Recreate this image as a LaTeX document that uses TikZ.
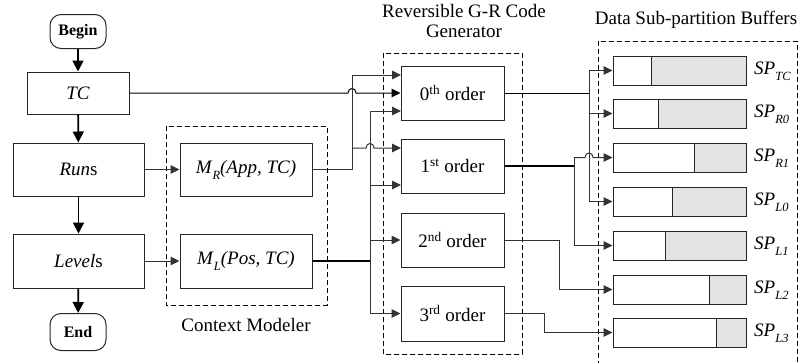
\documentclass[tikz,border=0pt]{standalone}
\usepackage{fontspec}
\setmainfont{Liberation Serif}
\usetikzlibrary{arrows.meta,calc}

% small lowered italic subscript
\newcommand{\lowsub}[1]{\raisebox{-0.7ex}{\fontsize{12.5}{12.5}\selectfont\textit{#1}}}

\begin{document}
\begin{tikzpicture}[x=1pt,y=-1pt,
  font=\fontsize{19}{20}\selectfont,
  ln/.style={line width=1pt, draw=black!80},
  thk/.style={line width=1.7pt, draw=black},
  arr/.style={ln, -{Triangle[length=9pt,width=8.5pt]}},
  flow/.style={line width=1.8pt, -{Triangle[length=11pt,width=11pt]}},
  box/.style={draw=black!85, line width=1pt, inner sep=0pt},
  term/.style={box, rounded corners=11pt, minimum width=56pt,
    font=\fontsize{16}{18}\selectfont\bfseries},
  dashbox/.style={line width=1pt, dash pattern=on 5pt off 3pt},
  buf/.style={box, minimum width=133pt, minimum height=29pt},
  gfill/.style={fill=black!11, draw=black!85, line width=1pt}
]
\useasboundingbox (0,0) rectangle (803,362);

% ---- main flow ----
\node[term, minimum height=34pt] (begin) at (78,31.5) {Begin};
\node[box, minimum width=102pt, minimum height=42pt] (tc) at (78,93) {\textit{TC}};
\node[box, minimum width=131pt, minimum height=53pt] (runs) at (78.5,169.5) {\textit{Run}s};
\node[box, minimum width=131pt, minimum height=54pt] (levels) at (78.5,261) {\textit{Level}s};
\node[term, minimum height=37pt] (end) at (78,332) {End};

\draw[flow] (begin) -- (tc);
\draw[flow] (tc) -- (runs);
\draw[flow] (runs) -- (levels);
\draw[flow] (levels) -- (end);

% ---- context modeler ----
\draw[dashbox] (166,126) rectangle (327,305);
\node[box, minimum width=132pt, minimum height=53pt] (mr) at (246,169.5)
  {\textit{M}\lowsub{R}\textit{(App, TC)}};
\node[box, minimum width=132pt, minimum height=54pt] (ml) at (246,261)
  {\textit{M}\lowsub{L}\textit{(Pos, TC)}};
\node (cmlabel) at (246,325) {Context Modeler};

\draw[arr] (runs) -- (mr);
\draw[arr] (levels) -- (ml);

% ---- code generator ----
\draw[dashbox] (383,53) rectangle (522,354);
\node[align=center] (grlabel) at (464,21) {Reversible G-R Code\\Generator};
\node[box, minimum width=103pt, minimum height=54pt] (o0) at (452.5,93) {0\textsuperscript{th} order};
\node[box, minimum width=103pt, minimum height=54pt] (o1) at (452.5,166) {1\textsuperscript{st} order};
\node[box, minimum width=103pt, minimum height=54pt] (o2) at (452.5,240) {2\textsuperscript{nd} order};
\node[box, minimum width=103pt, minimum height=55pt] (o3) at (452.5,313.5) {3\textsuperscript{rd} order};

% junction columns and input points
\coordinate (jR) at (352,0);
\coordinate (jL) at (370,0);
\coordinate (j0) at (589,0);
\coordinate (j1) at (574,0);
\coordinate (j2) at (559,0);
\coordinate (j3) at (544,0);
\coordinate (in0a) at (401,75);
\coordinate (in0c) at (401,111);
\coordinate (in1a) at (401,148);
\coordinate (in1b) at (401,185);

% TC straight into the 0th order coder, hopping over the M_R bus
\draw[arr, draw=black] (tc.east) -- ($(jR |- tc.east)+(-4,0)$)
  .. controls +(0,-6) and +(0,-6) .. ($(jR |- tc.east)+(4,0)$) -- (o0.west);

% M_R bus
\draw[arr] (mr.east) -- (jR |- mr.east) -- (jR |- in0a) -- (in0a);
\draw[arr] (jR |- in1a) -- ($(jL |- in1a)+(-4,0)$)
  .. controls +(0,-6) and +(0,-6) .. ($(jL |- in1a)+(4,0)$) -- (in1a);

% M_L bus
\draw[thk] (ml.east) -- (jL |- ml.east);
\draw[ln] (jL |- in0c) -- (jL |- o3.west);
\draw[arr] (jL |- in0c) -- (in0c);
\draw[arr] (jL |- in1b) -- (in1b);
\draw[arr] (jL |- o2.west) -- (o2.west);
\draw[arr] (jL |- o3.west) -- (o3.west);

% ---- sub-partition buffers ----
\draw[dashbox] (598,366) -- (598,41) -- (797,41) -- (797,366);
\node (dblabel) at (696,20) {Data Sub-partition Buffers};

\foreach \nm/\yc/\gx/\lab in {btc/70.5/651/TC, br0/113.5/658/R0, br1/157.5/694/R1,
    bl0/201.5/672/L0, bl1/245.5/665/L1, bl2/289.5/709/L2, bl3/332.5/716/L3}{
  \node[buf] (\nm) at (679.5,\yc) {};
  \filldraw[gfill] ({\gx},{\yc-14.5}) rectangle (\nm.south east);
  \node[anchor=west, inner sep=0pt] (sp\nm) at (754,{\yc+1}) {\textit{SP}\lowsub{\lab}};
}

% 0th order outputs
\draw[ln, draw=black] (o0.east) -- (j0 |- o0.east);
\draw[ln] (j0 |- btc.west) -- (j0 |- bl0.west);
\draw[arr] (j0 |- btc.west) -- (btc.west);
\draw[arr] (j0 |- br0.west) -- (br0.west);
\draw[arr] (j0 |- bl0.west) -- (bl0.west);

% 1st order outputs
\draw[thk] (o1.east) -- (j1 |- o1.east);
\draw[ln] (j1 |- br1.west) -- (j1 |- bl1.west);
\draw[arr] (j1 |- br1.west) -- ($(j0 |- br1.west)+(-4,0)$)
  .. controls +(0,-6) and +(0,-6) .. ($(j0 |- br1.west)+(4,0)$) -- (br1.west);
\draw[arr] (j1 |- bl1.west) -- (bl1.west);

% 2nd and 3rd order outputs
\draw[arr] (o2.east) -- (j2 |- o2.east) -- (j2 |- bl2.west) -- (bl2.west);
\draw[arr] (o3.east) -- (j3 |- o3.east) -- (j3 |- bl3.west) -- (bl3.west);
\end{tikzpicture}
\end{document}
